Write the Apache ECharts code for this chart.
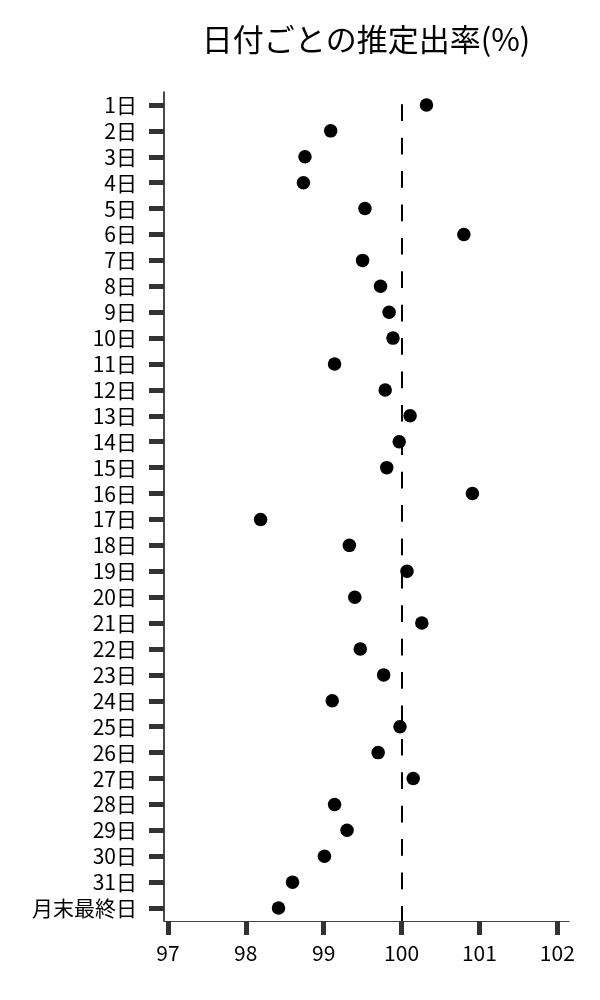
<!DOCTYPE html>
<html>
<head>
<meta charset="utf-8">
<title>日付ごとの推定出率</title>
<script src="https://cdn.jsdelivr.net/npm/echarts@6/dist/echarts.min.js"></script>
<style>
  html, body { margin: 0; padding: 0; background: #fff; }
  #main { width: 600px; height: 1000px; }
</style>
</head>
<body>
<div id="main"></div>
<script>
// 日付（縦軸のカテゴリ）
var days = ['1日', '2日', '3日', '4日', '5日', '6日', '7日', '8日', '9日', '10日',
  '11日', '12日', '13日', '14日', '15日', '16日', '17日', '18日', '19日', '20日',
  '21日', '22日', '23日', '24日', '25日', '26日', '27日', '28日', '29日', '30日',
  '31日', '月末最終日'];
// 推定出率(%)
var rates = [100.32, 99.09, 98.76, 98.74, 99.53, 100.80, 99.50, 99.73, 99.84, 99.89,
  99.14, 99.79, 100.11, 99.97, 99.81, 100.91, 98.19, 99.33, 100.07, 99.40,
  100.26, 99.47, 99.77, 99.11, 99.98, 99.70, 100.15, 99.14, 99.30, 99.01,
  98.60, 98.42];
// 横軸の目盛り
var xTicks = [97, 98, 99, 100, 101, 102];
// 基準線
var refLine = 100;

var chart = echarts.init(document.getElementById('main'));

var font = '"Noto Sans CJK JP", "Noto Sans", sans-serif';

var option = {
  animation: false,
  title: {
    text: '日付ごとの推定出率(%)',
    left: 366,
    top: 24,
    padding: 0,
    textAlign: 'center',
    textStyle: {
      fontFamily: font,
      fontSize: 31,
      fontWeight: 'normal',
      color: '#000'
    }
  },
  grid: {
    left: 164,
    right: 31,
    top: 92,
    bottom: 79
  },
  xAxis: {
    type: 'value',
    min: 96.95,
    max: 102.15,
    splitLine: { show: false },
    axisLine: { show: true, lineStyle: { color: '#444', width: 1.2 } },
    axisTick: {
      show: true,
      customValues: xTicks,
      length: 14,
      lineStyle: { color: '#333', width: 5 }
    },
    axisLabel: {
      customValues: xTicks,
      margin: 22,
      fontFamily: font,
      fontSize: 21,
      color: '#000'
    }
  },
  yAxis: {
    type: 'category',
    data: days,
    inverse: true,
    axisLine: { show: true, lineStyle: { color: '#111', width: 1.5 } },
    axisTick: {
      show: true,
      alignWithLabel: true,
      length: 15,
      lineStyle: { color: '#333', width: 5 }
    },
    axisLabel: {
      interval: 0,
      margin: 27,
      fontFamily: font,
      fontSize: 21,
      color: '#000'
    }
  },
  series: [{
    type: 'scatter',
    symbolSize: 13.5,
    itemStyle: { color: '#000', opacity: 1 },
    data: rates.map(function(v, i) { return [v, i]; }),
    // 100%の破線
    markLine: {
      silent: true,
      symbol: 'none',
      label: { show: false },
      lineStyle: { color: '#000', width: 2, type: [16.7, 16.7], dashOffset: 21.1 },
      data: [{ xAxis: refLine }]
    }
  }]
};

chart.setOption(option);
</script>
</body>
</html>
